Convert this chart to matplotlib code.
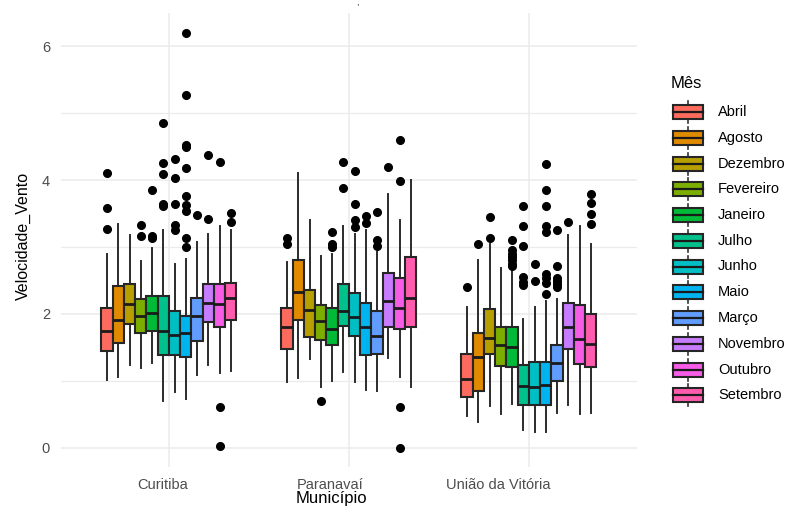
import numpy as np
import matplotlib
matplotlib.use("Agg")
import matplotlib.pyplot as plt
from matplotlib.patches import Rectangle
from matplotlib.transforms import ScaledTranslation

plt.rcParams['font.family'] = ['Liberation Sans', 'DejaVu Sans']

# data (wind speed boxplot stats per month)
cities = ["Curitiba", "Paranavaí", "União da Vitória"]
months = ["Abril", "Agosto", "Dezembro", "Fevereiro", "Janeiro", "Julho",
          "Junho", "Maio", "Março", "Novembro", "Outubro", "Setembro"]
colors = ["#FC6B5E", "#E08A00", "#B89F00", "#7CAE00", "#00BA38", "#00C08B",
          "#00BFC4", "#00B4F0", "#619CFF", "#C77CFF", "#F75CE6", "#FF5CAD"]

cwb_low = [1.01, 1.06, 1.24, 1.19, 1.26, 0.70, 0.83, 0.73, 1.08, 1.23, 1.12, 1.14]
cwb_q1 = [1.45, 1.56, 1.85, 1.72, 1.74, 1.39, 1.39, 1.35, 1.59, 1.88, 1.81, 1.91]
cwb_med = [1.75, 1.91, 2.15, 1.97, 2.02, 1.75, 1.69, 1.71, 1.97, 2.17, 2.15, 2.24]
cwb_q3 = [2.09, 2.42, 2.44, 2.22, 2.26, 2.27, 2.05, 1.97, 2.24, 2.44, 2.44, 2.46]
cwb_high = [2.89, 3.34, 3.18, 2.79, 2.98, 3.26, 2.75, 2.82, 3.08, 3.20, 3.32, 3.26]
cwb_out = [[4.11, 3.59, 3.27], [], [], [3.33, 3.17], [3.86, 3.17, 3.14],
           [4.85, 4.25, 4.09, 3.64, 3.62], [4.32, 4.03, 3.64, 3.33, 3.25],
           [6.20, 5.28, 4.53, 4.50, 4.18, 3.76, 3.63, 3.54, 3.13, 3.00],
           [3.48], [4.37, 3.42], [4.27, 0.61, 0.02], [3.51, 3.37]]

pvi_low = [0.98, 1.04, 1.33, 0.90, 0.99, 1.13, 0.98, 0.86, 0.84, 1.34, 1.06, 0.91]
pvi_q1 = [1.47, 1.91, 1.66, 1.61, 1.54, 1.82, 1.67, 1.39, 1.40, 1.81, 1.77, 1.81]
pvi_med = [1.80, 2.32, 2.06, 1.89, 1.77, 2.05, 1.96, 1.81, 1.67, 2.19, 2.09, 2.24]
pvi_q3 = [2.09, 2.81, 2.36, 2.14, 2.09, 2.45, 2.31, 2.16, 2.04, 2.61, 2.53, 2.85]
pvi_high = [2.77, 4.10, 3.41, 2.86, 2.89, 3.31, 3.19, 3.26, 2.92, 3.79, 3.41, 4.00]
pvi_out = [[3.14, 3.04], [], [], [0.70], [3.22, 3.04, 3.00],
           [4.27, 3.88], [4.13, 3.64, 3.41, 3.30], [3.46, 3.36],
           [3.53, 3.10, 3.02], [4.20], [4.60, 3.98, 0.61, 0.0], []]

udv_low = [0.47, 0.39, 0.62, 0.50, 0.65, 0.27, 0.24, 0.24, 0.52, 0.64, 0.50, 0.52]
udv_q1 = [0.76, 0.85, 1.40, 1.22, 1.20, 0.63, 0.63, 0.63, 1.00, 1.47, 1.25, 1.20]
udv_med = [1.02, 1.35, 1.64, 1.54, 1.50, 0.92, 0.91, 0.94, 1.26, 1.80, 1.63, 1.55]
udv_q3 = [1.40, 1.71, 2.07, 1.80, 1.80, 1.23, 1.28, 1.28, 1.54, 2.17, 2.13, 2.00]
udv_high = [2.10, 2.80, 3.05, 2.69, 2.68, 1.93, 2.10, 2.20, 2.22, 3.18, 3.31, 3.04]
udv_out = [[2.40], [3.05], [3.45, 3.14], [],
           [3.10, 2.95, 2.90, 2.85, 2.80, 2.75, 2.71],
           [3.61, 3.32, 3.02, 2.55, 2.48, 2.43], [2.75, 2.49],
           [4.24, 3.86, 3.61, 3.32, 3.22, 2.59, 2.54, 2.46, 2.30],
           [3.26, 2.72, 2.54, 2.49, 2.45, 2.40], [3.38], [], [3.80, 3.66, 3.49, 3.35]]

groups = [
    (cwb_low, cwb_q1, cwb_med, cwb_q3, cwb_high, cwb_out),
    (pvi_low, pvi_q1, pvi_med, pvi_q3, pvi_high, pvi_out),
    (udv_low, udv_q1, udv_med, udv_q3, udv_high, udv_out),
]

W, H = 808, 507
fig = plt.figure(figsize=(W / 100, H / 100), dpi=100)
fig.patch.set_facecolor("white")

# panel in pixel terms: left 61, right 637, top 13, bottom 467
ax = fig.add_axes([61 / W, (H - 467) / H, (637 - 61) / W, (467 - 13) / H])
ax.set_facecolor("white")

box_w = 0.75 / len(months)
for g, (low, q1, med, q3, high, out) in enumerate(groups):
    stats = []
    for i in range(len(months)):
        stats.append(dict(whislo=low[i], q1=q1[i], med=med[i], q3=q3[i],
                          whishi=high[i], fliers=out[i]))
    pos = [g + (i - (len(months) - 1) / 2) * box_w for i in range(len(months))]
    bp = ax.bxp(stats, positions=pos, widths=box_w, patch_artist=True,
                showcaps=False, manage_ticks=False,
                boxprops=dict(edgecolor="#262626", linewidth=1.5),
                whiskerprops=dict(color="#2B2B2B", linewidth=1.4),
                medianprops=dict(color="#1A1A1A", linewidth=2.0),
                flierprops=dict(marker="o", markerfacecolor="black",
                                markeredgecolor="black", markersize=5.5))
    for patch, c in zip(bp["boxes"], colors):
        patch.set_facecolor(c)
    for w in bp["whiskers"]:
        w.set_zorder(1)

ax.set_xlim(-0.6, 2.6)
ax.set_ylim(-0.29, 6.50)
ax.set_yticks([0, 2, 4, 6])
ax.set_yticks([1, 3, 5], minor=True)
ax.set_xticks(range(len(cities)))
ax.set_xticklabels(cities)
ax.grid(True, which="major", color="#EBEBEB", linewidth=1.1, zorder=0)
ax.grid(True, which="minor", axis="y", color="#EBEBEB", linewidth=0.9, zorder=0)
ax.set_axisbelow(True)
for s in ax.spines.values():
    s.set_visible(False)
ax.tick_params(axis="both", which="both", length=0, colors="#4D4D4D", labelsize=10.5)
ax.tick_params(axis="y", pad=8)
ax.tick_params(axis="x", pad=8)

# tick labels sit a bit left of the gridlines in the reference
for lab, dx in zip(ax.get_xticklabels(), [-6.5, -19, -30.5]):
    lab.set_transform(lab.get_transform() + ScaledTranslation(dx / 100, 0, fig.dpi_scale_trans))

fig.text(23.5 / W, 1 - 236 / H, "Velocidade_Vento", rotation=90,
         ha="center", va="center", fontsize=11.5)
fig.text(331 / W, 1 - 498 / H, "Município", ha="center", va="center", fontsize=12)
fig.text(357 / W, 1.0, ",", ha="center", va="top", fontsize=6)

# legend drawn in pixel space
lax = fig.add_axes([0, 0, 1, 1], zorder=5)
lax.set_xlim(0, W)
lax.set_ylim(H, 0)
lax.axis("off")
lax.text(671, 83, "Mês", ha="left", va="center", fontsize=12)
for i, (m, c) in enumerate(zip(months, colors)):
    y = 112 + i * 25.75
    lax.plot([688, 688], [y - 11, y + 11], color="#333333", linewidth=1.2, zorder=1)
    lax.add_patch(Rectangle((673, y - 7), 30, 14, facecolor=c,
                            edgecolor="#262626", linewidth=1.5, zorder=2))
    lax.plot([673, 703], [y, y], color="#1A1A1A", linewidth=1.6, zorder=3)
    lax.text(718, y, m, ha="left", va="center", fontsize=10.5)

fig.savefig("out.png", dpi=100, facecolor="white")
plt.close(fig)
